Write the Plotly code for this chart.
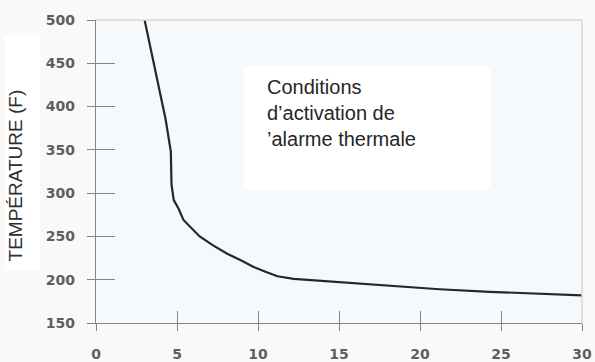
import plotly.graph_objects as go

# Data
time_values = [3.0, 3.7, 4.3, 4.62, 4.66, 4.8, 5.1, 5.4, 5.9, 6.4, 7.2, 8.1, 9.0, 9.7,
               10.5, 11.2, 12.2, 15.0, 18.2, 21.2, 24.3, 27.4, 30.0]
temperature_values = [500, 440, 385, 348, 310, 292, 282, 269, 259, 250, 240, 230, 222, 215,
                      209, 204, 201, 197, 193, 189, 186, 184, 182]
x_ticks = [0, 5, 10, 15, 20, 25, 30]
y_ticks = [150, 200, 250, 300, 350, 400, 450, 500]
y_title = "TEMPÉRATURE (F)"
box_text = "Conditions<br>d’activation de<br>’alarme thermale"

axis_color = "#8a8480"
tick_font = dict(family="DejaVu Sans", size=14, color="#5e5e5e", weight="bold")

fig = go.Figure()
fig.add_trace(go.Scatter(
    x=time_values, y=temperature_values, mode="lines",
    line=dict(color="#262626", width=2.2),
    showlegend=False, hoverinfo="skip",
))
# invisible helper trace so the overlay axes (inner tick halves) are drawn
fig.add_trace(go.Scatter(x=[None], y=[None], xaxis="x2", yaxis="y2",
                         showlegend=False, hoverinfo="skip"))

common = dict(showgrid=False, zeroline=False, linecolor=axis_color, linewidth=1.3,
              tickcolor=axis_color, tickwidth=1.3, automargin=False)

fig.update_layout(
    width=595, height=362, autosize=False,
    margin=dict(l=96, r=13, t=20, b=39, autoexpand=False),
    paper_bgcolor="#f9f9f9",
    plot_bgcolor="#f6f9fb",
    xaxis=dict(range=[0, 30], tickvals=x_ticks, ticks="outside", ticklen=7,
               showline=True, tickfont=tick_font, ticklabelstandoff=11, **common),
    yaxis=dict(range=[150, 500], tickvals=y_ticks, ticks="outside", ticklen=8,
               showline=True, tickfont=tick_font, ticklabelstandoff=9, **common),
    xaxis2=dict(range=[0, 30], tickvals=x_ticks, ticks="inside", ticklen=12,
                overlaying="x", anchor="y", side="bottom", showline=False,
                showticklabels=False, **common),
    yaxis2=dict(range=[150, 500], tickvals=y_ticks, ticks="inside", ticklen=19,
                overlaying="y", anchor="x", side="left", showline=False,
                showticklabels=False, **common),
    shapes=[
        dict(type="line", xref="paper", yref="paper", x0=0, x1=1, y0=1, y1=1,
             line=dict(color="#dcd5d2", width=1.5)),
        dict(type="line", xref="paper", yref="paper", x0=1, x1=1, y0=0, y1=1,
             line=dict(color="#dcd5d2", width=1.5)),
        dict(type="rect", xref="paper", yref="paper", x0=0.305, x1=0.813,
             y0=0.439, y1=0.848, fillcolor="white", line=dict(width=0), layer="below"),
        dict(type="rect", xref="paper", yref="paper", x0=-0.187, x1=-0.115,
             y0=0.175, y1=0.95, fillcolor="white", line=dict(width=0), layer="below"),
    ],
    annotations=[
        dict(text=box_text, xref="paper", yref="paper", x=0.348, y=0.822,
             xanchor="left", yanchor="top", align="left", showarrow=False,
             font=dict(family="Liberation Sans", size=20, color="#262626")),
        dict(text=y_title, xref="paper", yref="paper", x=-0.166, y=0.488,
             xanchor="center", yanchor="middle", textangle=-90, showarrow=False,
             font=dict(family="Liberation Sans", size=19, color="#2e2e2e")),
    ],
)

fig.write_html("out.html", config={"displayModeBar": False},
               post_script="document.body.style.margin='0';")
